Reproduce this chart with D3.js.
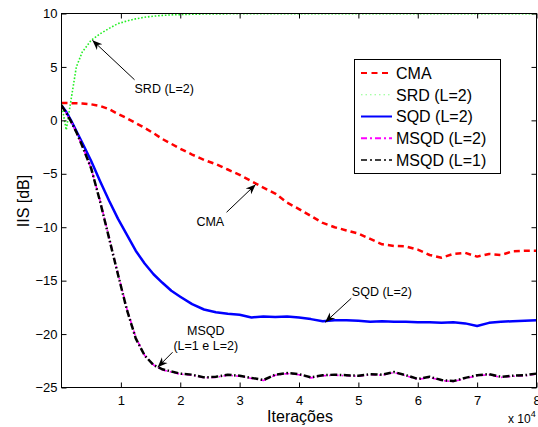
<!DOCTYPE html>
<html>
<head>
<meta charset="utf-8">
<script src="https://cdn.jsdelivr.net/npm/d3@7"></script>
<style>
  body { margin: 0; background: #fff; }
  svg { display: block; }
  text { font-family: "Liberation Sans", Arial, Helvetica, sans-serif; fill: #000; }
</style>
</head>
<body>
<svg id="chart" width="538" height="427"></svg>
<script>
// Iteration axis, in units of 10^4 iterations
const iterations = [0, 0.08, 0.16, 0.25, 0.35, 0.5, 0.65, 0.8, 0.95, 1.1, 1.25, 1.4, 1.55, 1.7, 1.85,
  2.0, 2.2, 2.4, 2.6, 2.8, 3.0, 3.2, 3.4, 3.6, 3.8, 4.0, 4.2, 4.4, 4.6, 4.8, 5.0, 5.2, 5.4, 5.6, 5.8,
  6.0, 6.2, 6.4, 6.6, 6.8, 7.0, 7.2, 7.4, 7.6, 7.8, 8.0];

// IIS in dB for each equaliser
const cma = [1.62, 1.62, 1.60, 1.60, 1.58, 1.50, 1.35, 1.05, 0.6, 0.2, -0.25, -0.7, -1.2, -1.75, -2.2,
  -2.65, -3.2, -3.7, -4.1, -4.6, -5.1, -5.7, -6.3, -6.85, -7.7, -8.3, -8.95, -9.6, -10.0, -10.3, -10.6,
  -11.1, -11.6, -11.75, -11.8, -12.1, -12.6, -12.85, -12.5, -12.4, -12.75, -12.5, -12.6, -12.25, -12.2, -12.2];

const srd = [1.55, -0.9, 1.9, 5.0, 6.4, 7.5, 8.1, 8.6, 9.05, 9.3, 9.5, 9.65, 9.75, 9.82, 9.87,
  9.9, 9.93, 9.95, 9.96, 9.97, 9.97, 9.98, 9.97, 9.98, 9.98, 9.97, 9.98, 9.98, 9.97, 9.98, 9.98,
  9.98, 9.97, 9.98, 9.98, 9.98, 9.97, 9.98, 9.98, 9.97, 9.98, 9.98, 9.98, 9.97, 9.98, 9.98];

const sqd = [1.4, 0.8, 0.0, -1.0, -2.1, -3.8, -5.7, -7.5, -9.2, -10.7, -12.2, -13.4, -14.4, -15.2, -15.95,
  -16.5, -17.2, -17.7, -17.95, -18.1, -18.2, -18.45, -18.35, -18.4, -18.35, -18.45, -18.6, -18.8, -18.7, -18.7, -18.75,
  -18.85, -18.8, -18.85, -18.85, -18.9, -18.9, -18.95, -18.9, -19.0, -19.25, -18.95, -18.85, -18.8, -18.75, -18.7];

const msqdL2 = [1.4, 0.7, -0.1, -1.1, -2.4, -4.5, -7.5, -10.9, -14.3, -17.6, -20.3, -22.0, -22.9, -23.35, -23.55,
  -23.75, -23.85, -24.1, -24.05, -23.85, -23.95, -24.15, -24.35, -23.85, -23.7, -23.8, -24.1, -23.9, -23.85, -23.9, -23.95,
  -23.8, -23.85, -23.6, -23.9, -24.25, -24.05, -24.35, -24.45, -24.15, -23.9, -23.8, -24.05, -23.95, -23.9, -23.75];

const msqdL1 = [1.4, 0.7, -0.1, -1.1, -2.4, -4.5, -7.6, -11.0, -14.4, -17.7, -20.4, -22.0, -22.9, -23.3, -23.5,
  -23.7, -23.8, -24.05, -24.0, -23.8, -23.9, -24.1, -24.3, -23.8, -23.65, -23.75, -24.05, -23.85, -23.8, -23.85, -23.9,
  -23.75, -23.8, -23.55, -23.85, -24.2, -24.0, -24.3, -24.4, -24.1, -23.85, -23.75, -24.0, -23.9, -23.85, -23.7];

const xTicks = [1, 2, 3, 4, 5, 6, 7, 8];
const yTicks = [10, 5, 0, -5, -10, -15, -20, -25];

const series = [
  { name: "CMA",        values: cma,    color: "#ff0000", width: 2.5, dash: "6,4",           legendWidth: 2,   legendDash: "6,4.5" },
  { name: "SRD (L=2)",  values: srd,    color: "#22ee22", width: 1.6, dash: "1.6,1.8",       legendWidth: 1,   legendDash: "1.5,3", legendColor: "#88ff88" },
  { name: "SQD (L=2)",  values: sqd,    color: "#0000ff", width: 2.5, dash: null,            legendWidth: 2,   legendDash: null },
  { name: "MSQD (L=2)", values: msqdL2, color: "#ff00ff", width: 1.6, dash: "5,3,1.5,3",     legendWidth: 2,   legendDash: "6,3,2,3" },
  { name: "MSQD (L=1)", values: msqdL1, color: "#000000", width: 2.5, dash: "7,2.5,1.5,2.5", legendWidth: 1.5, legendDash: "6,3,2,3" }
];

// Annotations: arrow tip and tail in data units, label anchor in data units
const annotations = [
  { lines: ["SRD (L=2)"], tip: [0.52, 7.5], tail: [1.23, 3.8], at: [1.23, 3.0], anchor: "start" },
  { lines: ["CMA"], tip: [3.27, -6.0], tail: [2.78, -8.6], at: [2.74, -9.45], anchor: "end" },
  { lines: ["SQD (L=2)"], tip: [4.44, -18.9], tail: [4.88, -16.65], at: [4.89, -16.0], anchor: "start" },
  { lines: ["MSQD", "(L=1 e L=2)"], tip: [1.62, -23.1], tail: [1.87, -21.7], at: [2.43, -19.7], anchor: "middle" }
];

const svg = d3.select("#chart");
const plot = { left: 61.5, right: 536.5, top: 13.5, bottom: 387.5 };

const x = d3.scaleLinear().domain([0, 8]).range([plot.left, plot.right]);
const y = d3.scaleLinear().domain([-25, 10]).range([plot.bottom, plot.top]);

const minus = d => (d < 0 ? "\u2212" + Math.abs(d) : String(d));

const defs = svg.append("defs");
defs.append("clipPath").attr("id", "plotClip")
  .append("rect")
  .attr("x", plot.left).attr("y", plot.top - 2)
  .attr("width", plot.right - plot.left).attr("height", plot.bottom - plot.top + 2);

defs.append("marker")
  .attr("id", "arrowHead")
  .attr("viewBox", "-10 -5 12 10")
  .attr("refX", 0).attr("refY", 0)
  .attr("markerWidth", 12).attr("markerHeight", 10)
  .attr("markerUnits", "userSpaceOnUse")
  .attr("orient", "auto")
  .append("path")
  .attr("d", "M0,0 L-10,-4 L-7,0 L-10,4 Z")
  .attr("fill", "#000");

// Curves
const line = d3.line()
  .x((d, i) => x(iterations[i]))
  .y(d => y(d));

const curves = svg.append("g").attr("clip-path", "url(#plotClip)");
series.forEach(s => {
  curves.append("path")
    .datum(s.values)
    .attr("d", line)
    .attr("fill", "none")
    .attr("stroke", s.color)
    .attr("stroke-width", s.width)
    .attr("stroke-dasharray", s.dash)
    .attr("stroke-linejoin", "round");
});

// Axes with inward ticks on all four sides
const axisStyle = g => {
  g.select(".domain").remove();
  g.selectAll(".tick line").attr("stroke", "#000").attr("stroke-width", 1);
  g.selectAll(".tick text").attr("font-size", 13).attr("font-family", "Liberation Sans, Arial, sans-serif").attr("fill", "#000");
};

svg.append("g")
  .attr("transform", `translate(0,${plot.bottom})`)
  .call(d3.axisBottom(x).tickValues(xTicks).tickSizeInner(-5).tickSizeOuter(0).tickPadding(8).tickFormat(d3.format("d")))
  .call(axisStyle);

svg.append("g")
  .attr("transform", `translate(0,${plot.top})`)
  .call(d3.axisTop(x).tickValues(xTicks).tickSizeInner(-5).tickSizeOuter(0).tickFormat(""))
  .call(axisStyle);

svg.append("g")
  .attr("transform", `translate(${plot.left},0)`)
  .call(d3.axisLeft(y).tickValues(yTicks).tickSizeInner(-5).tickSizeOuter(0).tickPadding(4).tickFormat(minus))
  .call(axisStyle);

svg.append("g")
  .attr("transform", `translate(${plot.right},0)`)
  .call(d3.axisRight(y).tickValues(yTicks).tickSizeInner(-5).tickSizeOuter(0).tickFormat(""))
  .call(axisStyle);

svg.append("rect")
  .attr("x", plot.left).attr("y", plot.top)
  .attr("width", plot.right - plot.left).attr("height", plot.bottom - plot.top)
  .attr("fill", "none").attr("stroke", "#000").attr("stroke-width", 1);

// Axis titles
svg.append("text")
  .attr("x", 300).attr("y", 422)
  .attr("text-anchor", "middle")
  .attr("font-size", 16)
  .text("Iterações");

svg.append("text")
  .attr("transform", "translate(29,201) rotate(-90)")
  .attr("text-anchor", "middle")
  .attr("font-size", 16)
  .text("IIS [dB]");

const expo = svg.append("text")
  .attr("x", 508).attr("y", 423)
  .attr("font-size", 12);
expo.append("tspan").text("x 10");
expo.append("tspan").attr("font-size", 9).attr("dy", -6).text("4");

// Annotations
const notes = svg.append("g");
annotations.forEach(a => {
  notes.append("line")
    .attr("x1", x(a.tail[0])).attr("y1", y(a.tail[1]))
    .attr("x2", x(a.tip[0])).attr("y2", y(a.tip[1]))
    .attr("stroke", "#000").attr("stroke-width", 1)
    .attr("marker-end", "url(#arrowHead)");
  const t = notes.append("text")
    .attr("x", x(a.at[0])).attr("y", y(a.at[1]))
    .attr("text-anchor", a.anchor)
    .attr("font-size", 12.5)
    .attr("fill", "#111");
  a.lines.forEach((ln, i) => {
    t.append("tspan")
      .attr("x", x(a.at[0]))
      .attr("dy", i === 0 ? "0.35em" : "1.15em")
      .text(ln);
  });
});

// Legend
const legend = svg.append("g");
legend.append("rect")
  .attr("x", 354.5).attr("y", 59.5)
  .attr("width", 146).attr("height", 114)
  .attr("fill", "#fff").attr("stroke", "#000").attr("stroke-width", 1);

series.forEach((s, i) => {
  const cy = 73 + i * 21.75;
  legend.append("line")
    .attr("x1", 361).attr("x2", 392)
    .attr("y1", cy).attr("y2", cy)
    .attr("stroke", s.legendColor || s.color)
    .attr("stroke-width", s.legendWidth)
    .attr("stroke-dasharray", s.legendDash);
  legend.append("text")
    .attr("x", 396).attr("y", cy)
    .attr("dy", "0.36em")
    .attr("font-size", 16)
    .text(s.name);
});
</script>
</body>
</html>
